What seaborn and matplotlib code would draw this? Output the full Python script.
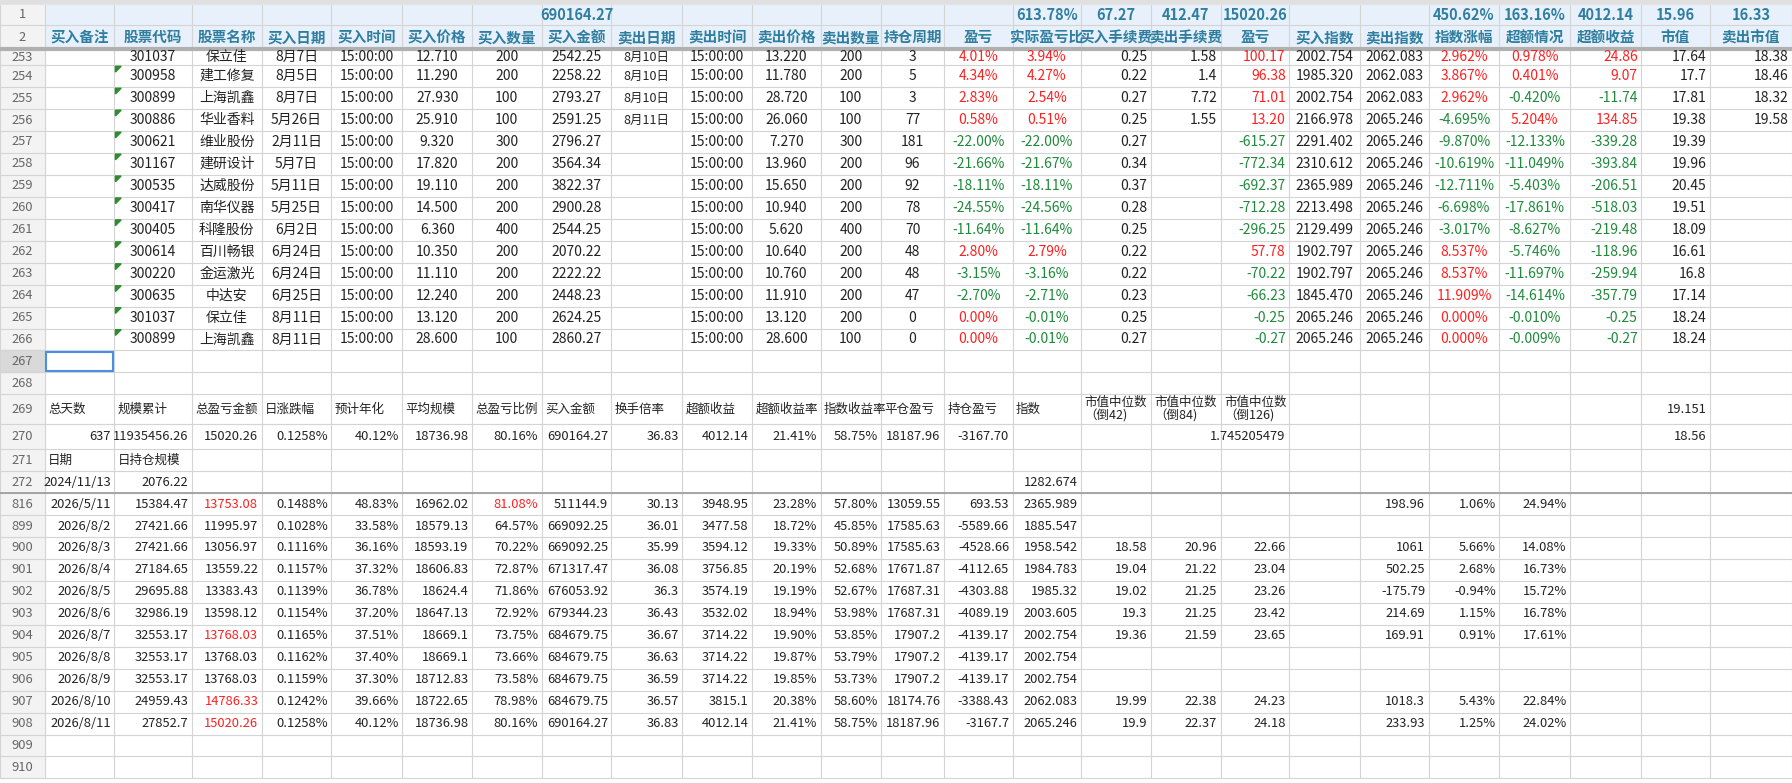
import matplotlib
matplotlib.use("Agg")
import matplotlib.pyplot as plt
import seaborn as sns
from matplotlib.patches import Rectangle, Polygon

sns.set_theme(style="white")
plt.rcParams['font.family'] = ['Noto Sans CJK SC', 'DejaVu Sans']

# ---------------- data ----------------
header_row1 = {8: "690164.27", 15: "613.78%", 16: "67.27", 17: "412.47", 18: "15020.26",
               21: "450.62%", 22: "163.16%", 23: "4012.14", 24: "15.96", 25: "16.33"}
headers = ["买入备注", "股票代码", "股票名称", "买入日期", "买入时间", "买入价格", "买入数量", "买入金额",
           "卖出日期", "卖出时间", "卖出价格", "卖出数量", "持仓周期", "盈亏", "实际盈亏比", "买入手续费",
           "卖出手续费", "盈亏", "买入指数", "卖出指数", "指数涨幅", "超额情况", "超额收益", "市值", "卖出市值"]

trade_rows = [253, 254, 255, 256, 257, 258, 259, 260, 261, 262, 263, 264, 265, 266]
codes = ["301037", "300958", "300899", "300886", "300621", "301167", "300535", "300417", "300405", "300614", "300220", "300635", "301037", "300899"]
names = ["保立佳", "建工修复", "上海凯鑫", "华业香料", "维业股份", "建研设计", "达威股份", "南华仪器", "科隆股份", "百川畅银", "金运激光", "中达安", "保立佳", "上海凯鑫"]
buy_dates = ["8月7日", "8月5日", "8月7日", "5月26日", "2月11日", "5月7日", "5月11日", "5月25日", "6月2日", "6月24日", "6月24日", "6月25日", "8月11日", "8月11日"]
buy_prices = ["12.710", "11.290", "27.930", "25.910", "9.320", "17.820", "19.110", "14.500", "6.360", "10.350", "11.110", "12.240", "13.120", "28.600"]
buy_qty = ["200", "200", "100", "100", "300", "200", "200", "200", "400", "200", "200", "200", "200", "100"]
buy_amt = ["2542.25", "2258.22", "2793.27", "2591.25", "2796.27", "3564.34", "3822.37", "2900.28", "2544.25", "2070.22", "2222.22", "2448.23", "2624.25", "2860.27"]
sell_dates = ["8月10日", "8月10日", "8月10日", "8月11日"] + [""] * 10
sell_prices = ["13.220", "11.780", "28.720", "26.060", "7.270", "13.960", "15.650", "10.940", "5.620", "10.640", "10.760", "11.910", "13.120", "28.600"]
sell_qty = ["200", "200", "100", "100", "300", "200", "200", "200", "400", "200", "200", "200", "200", "100"]
periods = ["3", "5", "3", "77", "181", "96", "92", "78", "70", "48", "48", "47", "0", "0"]
pnl_pct = ["4.01%", "4.34%", "2.83%", "0.58%", "-22.00%", "-21.66%", "-18.11%", "-24.55%", "-11.64%", "2.80%", "-3.15%", "-2.70%", "0.00%", "0.00%"]
real_pct = ["3.94%", "4.27%", "2.54%", "0.51%", "-22.00%", "-21.67%", "-18.11%", "-24.56%", "-11.64%", "2.79%", "-3.16%", "-2.71%", "-0.01%", "-0.01%"]
buy_fee = ["0.25", "0.22", "0.27", "0.25", "0.27", "0.34", "0.37", "0.28", "0.25", "0.22", "0.22", "0.23", "0.25", "0.27"]
sell_fee = ["1.58", "1.4", "7.72", "1.55"] + [""] * 10
pnl_val = ["100.17", "96.38", "71.01", "13.20", "-615.27", "-772.34", "-692.37", "-712.28", "-296.25", "57.78", "-70.22", "-66.23", "-0.25", "-0.27"]
buy_idx = ["2002.754", "1985.320", "2002.754", "2166.978", "2291.402", "2310.612", "2365.989", "2213.498", "2129.499", "1902.797", "1902.797", "1845.470", "2065.246", "2065.246"]
sell_idx = ["2062.083", "2062.083", "2062.083"] + ["2065.246"] * 11
idx_chg = ["2.962%", "3.867%", "2.962%", "-4.695%", "-9.870%", "-10.619%", "-12.711%", "-6.698%", "-3.017%", "8.537%", "8.537%", "11.909%", "0.000%", "0.000%"]
excess = ["0.978%", "0.401%", "-0.420%", "5.204%", "-12.133%", "-11.049%", "-5.403%", "-17.861%", "-8.627%", "-5.746%", "-11.697%", "-14.614%", "-0.010%", "-0.009%"]
excess_ret = ["24.86", "9.07", "-11.74", "134.85", "-339.28", "-393.84", "-206.51", "-518.03", "-219.48", "-118.96", "-259.94", "-357.79", "-0.25", "-0.27"]
mkt_val = ["17.64", "17.7", "17.81", "19.38", "19.39", "19.96", "20.45", "19.51", "18.09", "16.61", "16.8", "17.14", "18.24", "18.24"]
sell_mv = ["18.38", "18.46", "18.32", "19.58"] + [""] * 10

summary_labels = ["总天数", "规模累计", "总盈亏金额", "日涨跌幅", "预计年化", "平均规模", "总盈亏比例", "买入金额",
                  "换手倍率", "超额收益", "超额收益率", "指数收益率", "平仓盈亏", "持仓盈亏", "指数",
                  "市值中位数\n（倒42)", "市值中位数\n（倒84)", "市值中位数\n（倒126)"]
summary_values = ["637", "11935456.26", "15020.26", "0.1258%", "40.12%", "18736.98", "80.16%", "690164.27",
                  "36.83", "4012.14", "21.41%", "58.75%", "18187.96", "-3167.70"]

daily_rows = ["816", "899", "900", "901", "902", "903", "904", "905", "906", "907", "908"]
daily = [
    ["2026/5/11", "15384.47", "13753.08", "0.1488%", "48.83%", "16962.02", "81.08%", "511144.9", "30.13", "3948.95", "23.28%", "57.80%", "13059.55", "693.53", "2365.989", "", "", "", "", "198.96", "1.06%", "24.94%"],
    ["2026/8/2", "27421.66", "11995.97", "0.1028%", "33.58%", "18579.13", "64.57%", "669092.25", "36.01", "3477.58", "18.72%", "45.85%", "17585.63", "-5589.66", "1885.547", "", "", "", "", "", "", ""],
    ["2026/8/3", "27421.66", "13056.97", "0.1116%", "36.16%", "18593.19", "70.22%", "669092.25", "35.99", "3594.12", "19.33%", "50.89%", "17585.63", "-4528.66", "1958.542", "18.58", "20.96", "22.66", "", "1061", "5.66%", "14.08%"],
    ["2026/8/4", "27184.65", "13559.22", "0.1157%", "37.32%", "18606.83", "72.87%", "671317.47", "36.08", "3756.85", "20.19%", "52.68%", "17671.87", "-4112.65", "1984.783", "19.04", "21.22", "23.04", "", "502.25", "2.68%", "16.73%"],
    ["2026/8/5", "29695.88", "13383.43", "0.1139%", "36.78%", "18624.4", "71.86%", "676053.92", "36.3", "3574.19", "19.19%", "52.67%", "17687.31", "-4303.88", "1985.32", "19.02", "21.25", "23.26", "", "-175.79", "-0.94%", "15.72%"],
    ["2026/8/6", "32986.19", "13598.12", "0.1154%", "37.20%", "18647.13", "72.92%", "679344.23", "36.43", "3532.02", "18.94%", "53.98%", "17687.31", "-4089.19", "2003.605", "19.3", "21.25", "23.42", "", "214.69", "1.15%", "16.78%"],
    ["2026/8/7", "32553.17", "13768.03", "0.1165%", "37.51%", "18669.1", "73.75%", "684679.75", "36.67", "3714.22", "19.90%", "53.85%", "17907.2", "-4139.17", "2002.754", "19.36", "21.59", "23.65", "", "169.91", "0.91%", "17.61%"],
    ["2026/8/8", "32553.17", "13768.03", "0.1162%", "37.40%", "18669.1", "73.66%", "684679.75", "36.63", "3714.22", "19.87%", "53.79%", "17907.2", "-4139.17", "2002.754", "", "", "", "", "", "", ""],
    ["2026/8/9", "32553.17", "13768.03", "0.1159%", "37.30%", "18712.83", "73.58%", "684679.75", "36.59", "3714.22", "19.85%", "53.73%", "17907.2", "-4139.17", "2002.754", "", "", "", "", "", "", ""],
    ["2026/8/10", "24959.43", "14786.33", "0.1242%", "39.66%", "18722.65", "78.98%", "684679.75", "36.57", "3815.1", "20.38%", "58.60%", "18174.76", "-3388.43", "2062.083", "19.99", "22.38", "24.23", "", "1018.3", "5.43%", "22.84%"],
    ["2026/8/11", "27852.7", "15020.26", "0.1258%", "40.12%", "18736.98", "80.16%", "690164.27", "36.83", "4012.14", "21.41%", "58.75%", "18187.96", "-3167.7", "2065.246", "19.9", "22.37", "24.18", "", "233.93", "1.25%", "24.02%"],
]
red_cells = {("816", 3), ("816", 7), ("904", 3), ("907", 3), ("908", 3)}

# ---------------- layout ----------------
W, H = 1568, 685
edges = [0, 39, 100, 168, 229, 290, 352, 413, 474, 535, 597, 658, 718, 771, 826, 886, 946,
         1007, 1068, 1128, 1190, 1250, 1312, 1374, 1436, 1496, 1568]
row_names = ["1", "2"] + [str(r) for r in trade_rows] + ["267", "268", "269", "270", "271", "272"] + daily_rows + ["909", "910"]
heights = {"1": 18, "2": 21, "253": 14, "269": 26, "270": 22}
ytop = {}
y = 4
for r in row_names:
    h = heights.get(r, 19.2)
    ytop[r] = (y, y + h)
    y += h
BOTTOM = y

fig = plt.figure(figsize=(17.92, 7.83), dpi=100)
ax = fig.add_axes([0, 0, 1, 1])
ax.set_xlim(0, W)
ax.set_ylim(H, 0)
ax.axis("off")

HDR_BG = "#e8f1fb"
TEAL = "#2f7ea0"
RED = "#ff2020"
GREEN = "#1e8a3a"
GRID = "#d4d4d4"
FS = 10

ax.add_patch(Rectangle((0, 0), W, 4, color="#e0e0e0", zorder=0))
ax.add_patch(Rectangle((39, 4), W - 39, ytop["2"][1] - 4, color=HDR_BG, zorder=0))
ax.add_patch(Rectangle((0, 4), 39, BOTTOM - 4, color="#f3f3f3", zorder=0))
ax.add_patch(Rectangle((0, ytop["267"][0]), 39, 19.2, color="#d9d9d9", zorder=0.5))

for r in row_names:
    ax.plot([0, W], [ytop[r][1]] * 2, color=GRID, lw=0.8, zorder=1)
for xe in edges:
    ax.plot([xe, xe], [4, BOTTOM], color=GRID, lw=0.8, zorder=1)
ax.plot([0, W], [ytop["2"][1]] * 2, color="#b0b0b0", lw=3, zorder=3)
ax.plot([0, W], [ytop["272"][1]] * 2, color="#9a9a9a", lw=1.2, zorder=3)
ax.add_patch(Rectangle((edges[1] + 1, ytop["267"][0] + 1), edges[2] - edges[1] - 2, 17,
                       fill=False, ec="#4a8fe0", lw=1.5, zorder=4))


def put(r, c, text, align="center", color="#222222", bold=False, fs=FS):
    if text == "":
        return
    y0, y1 = ytop[r]
    ym = (y0 + y1) / 2
    x0, x1 = edges[c], edges[c + 1]
    if align == "center":
        x = (x0 + x1) / 2
    elif align == "right":
        x = x1 - 3
    else:
        x = x0 + 3
    ax.text(x, ym, text, ha=align, va="center", color=color, fontsize=fs,
            fontweight="bold" if bold else "normal", zorder=5, linespacing=1.0)


for r in row_names:
    put(r, 0, r, color="#666666", fs=9.3)

for c, t in header_row1.items():
    put("1", c, t, align="center", color=TEAL, bold=True, fs=10.5)
for i, t in enumerate(headers):
    put("2", i + 1, t, color=TEAL, bold=True, fs=10.5)


def sign_color(v):
    return GREEN if v.startswith("-") else RED


for i, r in enumerate(trade_rows):
    r = str(r)
    put(r, 2, codes[i]); put(r, 3, names[i]); put(r, 4, buy_dates[i]); put(r, 5, "15:00:00")
    put(r, 6, buy_prices[i]); put(r, 7, buy_qty[i]); put(r, 8, buy_amt[i]); put(r, 9, sell_dates[i], fs=9)
    put(r, 10, "15:00:00"); put(r, 11, sell_prices[i]); put(r, 12, sell_qty[i]); put(r, 13, periods[i])
    put(r, 14, pnl_pct[i], color=sign_color(pnl_pct[i])); put(r, 15, real_pct[i], color=sign_color(real_pct[i]))
    put(r, 16, buy_fee[i], align="right"); put(r, 17, sell_fee[i], align="right")
    put(r, 18, pnl_val[i], align="right", color=sign_color(pnl_val[i]))
    put(r, 19, buy_idx[i]); put(r, 20, sell_idx[i])
    put(r, 21, idx_chg[i], color=sign_color(idx_chg[i])); put(r, 22, excess[i], color=sign_color(excess[i]))
    put(r, 23, excess_ret[i], align="right", color=sign_color(excess_ret[i]))
    put(r, 24, mkt_val[i], align="right"); put(r, 25, sell_mv[i], align="right")
    if r != "253":
        y0 = ytop[r][0]
        ax.add_patch(Polygon([(edges[2] + 1, y0 + 1), (edges[2] + 6, y0 + 1), (edges[2] + 1, y0 + 6)],
                             color="#2e8b2e", zorder=6))

for i, t in enumerate(summary_labels):
    put("269", i + 1, t, align="left", fs=9)
put("269", 24, "19.151", align="right", fs=9.3)
for i, t in enumerate(summary_values):
    put("270", i + 1, t, align="right", fs=9.3)
put("270", 18, "1.745205479", align="right", fs=9.3)
put("270", 24, "18.56", align="right", fs=9.3)
put("271", 1, "日期", align="left", fs=9)
put("271", 2, "日持仓规模", align="left", fs=9)
put("272", 1, "2024/11/13", align="right", fs=9.3)
put("272", 2, "2076.22", align="right", fs=9.3)
put("272", 15, "1282.674", align="right", fs=9.3)
for r, vals in zip(daily_rows, daily):
    for j, v in enumerate(vals):
        col = j + 1
        color = RED if (r, col) in red_cells else "#222222"
        put(r, col, v, align="right", color=color, fs=9.3)

fig.savefig("out.png", dpi=100)
